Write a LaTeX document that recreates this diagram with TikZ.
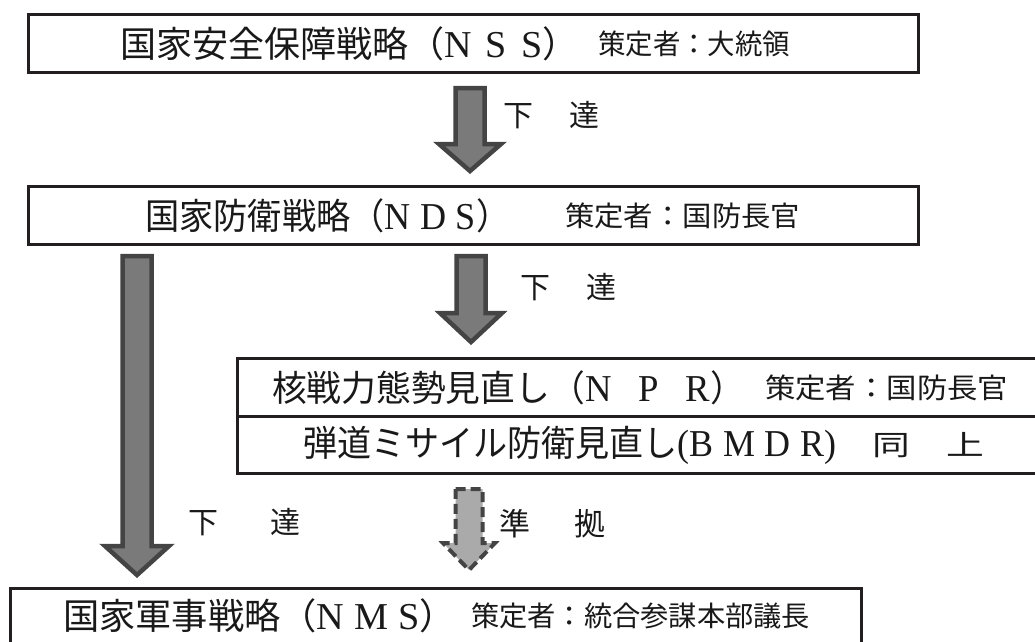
\documentclass[tikz,border=0pt]{standalone}
\usepackage{fontspec}
\usepackage{graphicx}
\setmainfont{Noto Sans CJK JP}
\newfontfamily\jp{Noto Sans CJK JP}
\newfontfamily\lat{Liberation Serif}
\usetikzlibrary{calc}
\definecolor{boxline}{HTML}{231F20}
\definecolor{arrline}{HTML}{444444}
\definecolor{arrfill}{HTML}{7A7A7A}
\definecolor{arrfilllt}{HTML}{AAAAAA}
% block arrow: style, from, to(tip), half shaft, half head, head length
\newcommand\blockarrow[6]{%
  \draw[#1] ($(#2)+(-#4,0)$) -- ($(#2)+(#4,0)$) -- ($(#3)+(#4,-#6)$) -- ($(#3)+(#5,-#6)$)
    -- (#3) -- ($(#3)+(-#5,-#6)$) -- ($(#3)+(-#4,-#6)$) -- cycle;}
\newcommand\mainT[2]{\resizebox{#1pt}{\height}{\fontsize{36}{36}\selectfont #2}}
\newcommand\smallT[2]{\resizebox{#1pt}{\height}{\fontsize{28}{28}\selectfont #2}}
\newcommand\ltr[1]{{\lat\fontsize{38}{38}\selectfont #1}}
\tikzset{
  box/.style={draw=boxline, line width=2.6pt, fill=white, inner sep=0pt, anchor=north west},
  txt/.style={inner sep=0pt, anchor=west, font=\jp, text=black!90},
  lbl/.style={inner sep=0pt, anchor=west, font=\jp\fontsize{30}{30}\selectfont, text=black!90},
  barrow/.style={draw=arrline, fill=arrfill, line width=4.5pt, line join=miter},
  darrow/.style={draw=arrline, fill=arrfilllt, line width=4pt, line join=miter, dash pattern=on 10pt off 5pt},
}
\begin{document}
\begin{tikzpicture}[x=1pt,y=-1pt]
\useasboundingbox (0,0) rectangle (1035,641);
% boxes
\node[box, minimum width=890pt, minimum height=58pt] (nss) at (27,13) {};
\node[box, minimum width=890pt, minimum height=58pt] (nds) at (27,185) {};
\node[box, minimum width=812pt, minimum height=58pt] (npr) at (236,357) {};
\node[box, minimum width=812pt, minimum height=57pt] (bmdr) at (236,415) {};
\node[box, minimum width=851pt, minimum height=62pt] (nms) at (9,587) {};
% texts
\node[txt] (t1a) at (120,44) {\mainT{458}{国家安全保障戦略（\ltr{N\hspace{14pt}S\hspace{14pt}S}）}};
\node[txt] (t1b) at (598,44) {\smallT{192}{策定者：大統領}};
\node[txt] (t2a) at (145,216) {\mainT{365}{国家防衛戦略（\ltr{N\hspace{10pt}D\hspace{10pt}S}）}};
\node[txt] (t2b) at (565,216) {\smallT{235}{策定者：国防長官}};
\node[txt] (t3a) at (272,388) {\mainT{473}{核戦力態勢見直し（\ltr{N\hspace{28pt}P\hspace{28pt}R}）}};
\node[txt] (t3b) at (765,388) {\smallT{243}{策定者：国防長官}};
\node[txt] (t4a) at (303,445) {\mainT{533}{弾道ミサイル防衛見直し\ltr{(B\hspace{10pt}M\hspace{10pt}D\hspace{10pt}R)}}};
\node[txt] (t4b) at (872,445) {\smallT{112}{同\hspace{27pt}上}};
\node[txt] (t5a) at (63,616) {\mainT{393}{国家軍事戦略（\ltr{N\hspace{10pt}M\hspace{10pt}S}）}};
\node[txt] (t5b) at (471,616) {\smallT{339}{策定者：統合参謀本部議長}};
% arrows
\coordinate (a1s) at (470,88);  \coordinate (a1e) at (470,171);
\coordinate (a2s) at (471,256); \coordinate (a2e) at (471,342);
\coordinate (a3s) at (137,256); \coordinate (a3e) at (137,575);
\coordinate (a4s) at (469,489); \coordinate (a4e) at (469,570);
\blockarrow{barrow}{a1s}{a1e}{14.5}{31}{27}
\blockarrow{barrow}{a2s}{a2e}{14.5}{31}{29}
\blockarrow{barrow}{a3s}{a3e}{14.5}{32}{29}
\blockarrow{darrow}{a4s}{a4e}{13.5}{26}{27}
% labels
\node[lbl] (l1) at (503,115) {下\hspace{36pt}達};
\node[lbl] (l2) at (520,287) {下\hspace{36pt}達};
\node[lbl] (l3) at (188,522) {下\hspace{52pt}達};
\node[lbl, font=\jp\fontsize{31}{31}\selectfont] (l4) at (499,524) {準\hspace{44pt}拠};
\end{tikzpicture}
\end{document}
